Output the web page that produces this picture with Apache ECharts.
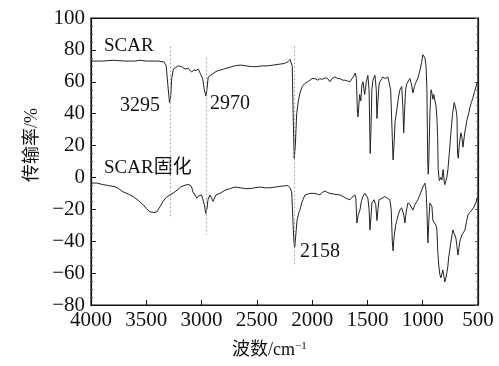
<!DOCTYPE html>
<html>
<head>
<meta charset="utf-8">
<script src="https://cdn.jsdelivr.net/npm/echarts@6/dist/echarts.min.js"></script>
<style>html,body{margin:0;padding:0;background:#fff}#c{width:499px;height:366px}</style>
</head>
<body>
<div id="c"></div>
<script>
// SCAR spectrum
const scarWn = [4000,3900,3800,3700,3600,3560,3500,3400,3340,3320,3305,3290,3280,3270,3255,3240,3210,3180,3150,3120,3090,3070,3050,3030,3010,2990,2975,2960,2950,2940,2920,2900,2880,2850,2800,2750,2700,2650,2600,2550,2500,2450,2400,2350,2300,2250,2220,2200,2190,2180,2172,2162,2152,2140,2125,2110,2090,2065,2040,2020,2000,1975,1950,1930,1910,1884,1860,1839,1820,1794,1770,1749,1725,1703,1680,1658,1640,1620,1610,1600,1590,1585,1578,1570,1560,1550,1540,1525,1510,1496,1485,1475,1468,1460,1450,1432,1420,1414,1405,1395,1387,1370,1360,1340,1315,1300,1290,1275,1268,1260,1250,1235,1220,1206,1190,1180,1172,1165,1155,1143,1130,1116,1100,1089,1075,1065,1053,1040,1026,1010,999,990,980,970,962,955,950,945,935,925,917,908,900,890,880,872,865,860,850,845,835,827,815,805,800,790,782,772,760,745,730,715,700,690,685,678,670,655,645,636,620,600,585,573,560,546,530,510,500];
const scarT = [73,73,73.5,73,73,73.5,73,73,72.5,70,58,47,50,62,68,69,70,69.5,68,68.5,66,67.5,67,68,65,62,55,51,56,63,64,65,66,67,68,69,70,70.5,70,69.5,69.5,70,70,70.5,71,71.5,72.5,74,73,70,40,12,20,40,48,53,57,59,60,61,62,62,61,62,61.5,62.5,62,60,62,63,62,62,61,61,60.5,60,62,64,65.5,62,40,38,45,52,48,58,60,52,60,64,55,15,30,55,61,64,55,37,48,58,60,61,63,62,63,62,55,25,11,20,35,42,50,55,57,45,28,40,55,59,60,62,58,53,57,59,59,63,67,72,77,76.5,75,70,55,11,2,10,40,55,53,49,52,52,45,38,25,5,-2,-3,0,-1.6,5,-3,-4.5,-2,0,5,15,28,40,47,43,38,15,12,20,28,25,19,28,36,40,44,47,50,54,59,60];

// SCAR cured (SCAR固化) spectrum
const curedWn = [4000,3950,3890,3850,3783,3750,3711,3660,3620,3570,3530,3500,3467,3430,3403,3376,3349,3320,3286,3250,3222,3190,3168,3130,3105,3090,3078,3060,3042,3025,3014,3000,2987,2975,2962,2952,2942,2924,2910,2897,2870,2834,2788,2740,2698,2650,2600,2562,2520,2472,2430,2382,2330,2280,2246,2220,2200,2185,2175,2165,2158,2150,2137,2120,2110,2095,2083,2065,2047,2020,1975,1950,1930,1910,1884,1860,1839,1800,1749,1720,1703,1680,1658,1640,1613,1605,1595,1585,1568,1555,1541,1523,1510,1496,1485,1477,1468,1459,1441,1425,1414,1405,1395,1387,1369,1342,1320,1297,1285,1275,1268,1260,1245,1234,1220,1206,1190,1180,1170,1161,1150,1134,1115,1098,1089,1070,1044,1020,998,980,970,962,953,945,935,925,917,908,900,890,880,872,863,855,845,835,827,818,808,800,790,782,773,765,755,740,727,710,700,690,682,672,664,645,630,618,605,591,575,555,540,528,515,510,500];
const curedT = [-3.5,-3.5,-4.5,-5,-5.8,-7,-9,-10.5,-12,-14.5,-17,-19.5,-21.5,-22,-21.5,-18.4,-15,-12.5,-11,-9.5,-8,-6,-5.3,-4.5,-4.7,-6,-9,-11,-13,-11.5,-11,-11,-12,-17,-22.5,-20,-14,-11,-13,-15,-11,-10,-8,-7,-6,-6.5,-7,-7,-6.5,-6,-6.5,-6.5,-6,-5.5,-5.3,-5,-6.5,-9,-25,-40,-44,-38,-27,-22,-20.5,-16,-14,-11,-10,-10,-10,-10.5,-11,-9.5,-8.5,-9.5,-10,-10.5,-11,-12,-13,-13.5,-14,-12.5,-11,-13,-28.6,-24,-20.5,-15,-12,-10,-11,-13,-20,-33,-25,-16,-14,-17,-27,-20,-14,-13,-13,-12,-13,-14,-20,-40,-46,-38,-30,-27,-23,-20.5,-19,-18.4,-24,-28.6,-22,-16,-17,-18,-20.5,-17,-14,-10,-6,-3.6,-8,-20,-41,-28,-16,-17,-18,-27,-27,-28,-30,-33,-47.5,-55,-61,-63,-64,-58,-62,-65.5,-63,-60,-56,-50,-45.5,-38,-33,-33,-38,-43.5,-48.7,-44,-40,-36,-35,-33,-28,-23.6,-22,-20.5,-19,-18.4,-15,-13,-12];

// peak marker lines (wavenumber, top value, bottom value)
const peakWn = [3285, 2955, 2160];
const peakTop = [82, 75, 82];
const peakBottom = [-25, -36, -55];

// axis ticks
const xTicks = [500,1000,1500,2000,2500,3000,3500,4000];
const yTicks = [-80,-60,-40,-20,0,20,40,60,80,100];

const serif = '"Liberation Serif","Times New Roman",serif';
const cjk = '"Liberation Serif","Noto Sans CJK SC",serif';
const chart = echarts.init(document.getElementById('c'), null, {renderer:'canvas'});

const pairs = (xs, ys) => xs.map((x, i) => [x, ys[i]]);
const markData = peakWn.map((w, i) => [{coord:[w, peakTop[i]]}, {coord:[w, peakBottom[i]]}]);

chart.setOption({
  animation: false,
  backgroundColor: '#fff',
  grid: {left: 91, right: 21, top: 18, bottom: 61, show: true, borderColor: '#111', borderWidth: 1.2},
  xAxis: [{
    type: 'value', inverse: true, min: xTicks[0], max: xTicks[xTicks.length-1], interval: 500,
    axisLine: {show: true, onZero: false, lineStyle: {color: '#111', width: 1.2}},
    axisTick: {show: true, inside: true, length: 5, lineStyle: {color: '#111'}},
    minorTick: {show: false},
    splitLine: {show: false},
    axisLabel: {color: '#111', fontFamily: serif, fontSize: 21, margin: 5, formatter: v => String(v)}
  }, {
    type: 'value', inverse: true, min: 500, max: 4000, interval: 500, position: 'top',
    axisLine: {show: true, onZero: false, lineStyle: {color: '#111', width: 1.2}},
    axisTick: {show: false}, axisLabel: {show: false}, splitLine: {show: false}
  }],
  yAxis: [{
    type: 'value', min: yTicks[0], max: yTicks[yTicks.length-1], interval: 20,
    axisLine: {show: true, onZero: false, lineStyle: {color: '#111', width: 1.2}},
    axisTick: {show: true, inside: true, length: 5, lineStyle: {color: '#111'}},
    minorTick: {show: true, splitNumber: 4, length: 2, lineStyle: {color: '#555'}},
    splitLine: {show: false},
    axisLabel: {color: '#111', fontFamily: serif, fontSize: 21, margin: 6,
      formatter: v => (v < 0 ? '\u2212' + Math.abs(v) : String(v))}
  }, {
    type: 'value', min: -80, max: 100, interval: 20, position: 'right',
    axisLine: {show: true, onZero: false, lineStyle: {color: '#111', width: 1.2}},
    axisTick: {show: true, inside: true, length: 3, lineStyle: {color: '#555'}},
    minorTick: {show: true, splitNumber: 4, length: 2, lineStyle: {color: '#777'}},
    axisLabel: {show: false}, splitLine: {show: false}
  }],
  series: [{
    name: 'SCAR', type: 'line', data: pairs(scarWn, scarT), showSymbol: false, symbol: 'none',
    lineStyle: {color: '#222', width: 1}, z: 3,
    markLine: {silent: true, symbol: 'none', label: {show: false},
      lineStyle: {color: '#999', type: [1.5, 2.5], width: 1}, data: markData}
  }, {
    name: 'SCAR固化', type: 'line', data: pairs(curedWn, curedT), showSymbol: false, symbol: 'none',
    lineStyle: {color: '#222', width: 1}, z: 3
  }],
  graphic: [
    {type: 'text', left: 104, top: 37, style: {text: 'SCAR', fontFamily: serif, fontSize: 19, fill: '#111'}},
    {type: 'text', left: 120, top: 96, style: {text: '3295', fontFamily: serif, fontSize: 20, fill: '#111'}},
    {type: 'text', left: 210, top: 94, style: {text: '2970', fontFamily: serif, fontSize: 20, fill: '#111'}},
    {type: 'text', left: 104, top: 159, style: {text: 'SCAR固化', fontFamily: cjk, fontSize: 19, fill: '#111'}},
    {type: 'text', left: 300, top: 242, style: {text: '2158', fontFamily: serif, fontSize: 20, fill: '#111'}},
    {type: 'text', left: 232, top: 341, style: {
      text: '波数/cm{sup|\u22121}', fontFamily: cjk, fontSize: 18, fill: '#111',
      rich: {sup: {fontSize: 11, fontFamily: serif, verticalAlign: 'top', padding: [0,0,8,0], fill: '#111'}}}},
    {type: 'text', x: 32, y: 145, rotation: Math.PI / 2, style: {
      text: '传输率/%', fontFamily: cjk, fontSize: 18, fill: '#111', align: 'center', verticalAlign: 'middle'}}
  ]
});
</script>
</body>
</html>
